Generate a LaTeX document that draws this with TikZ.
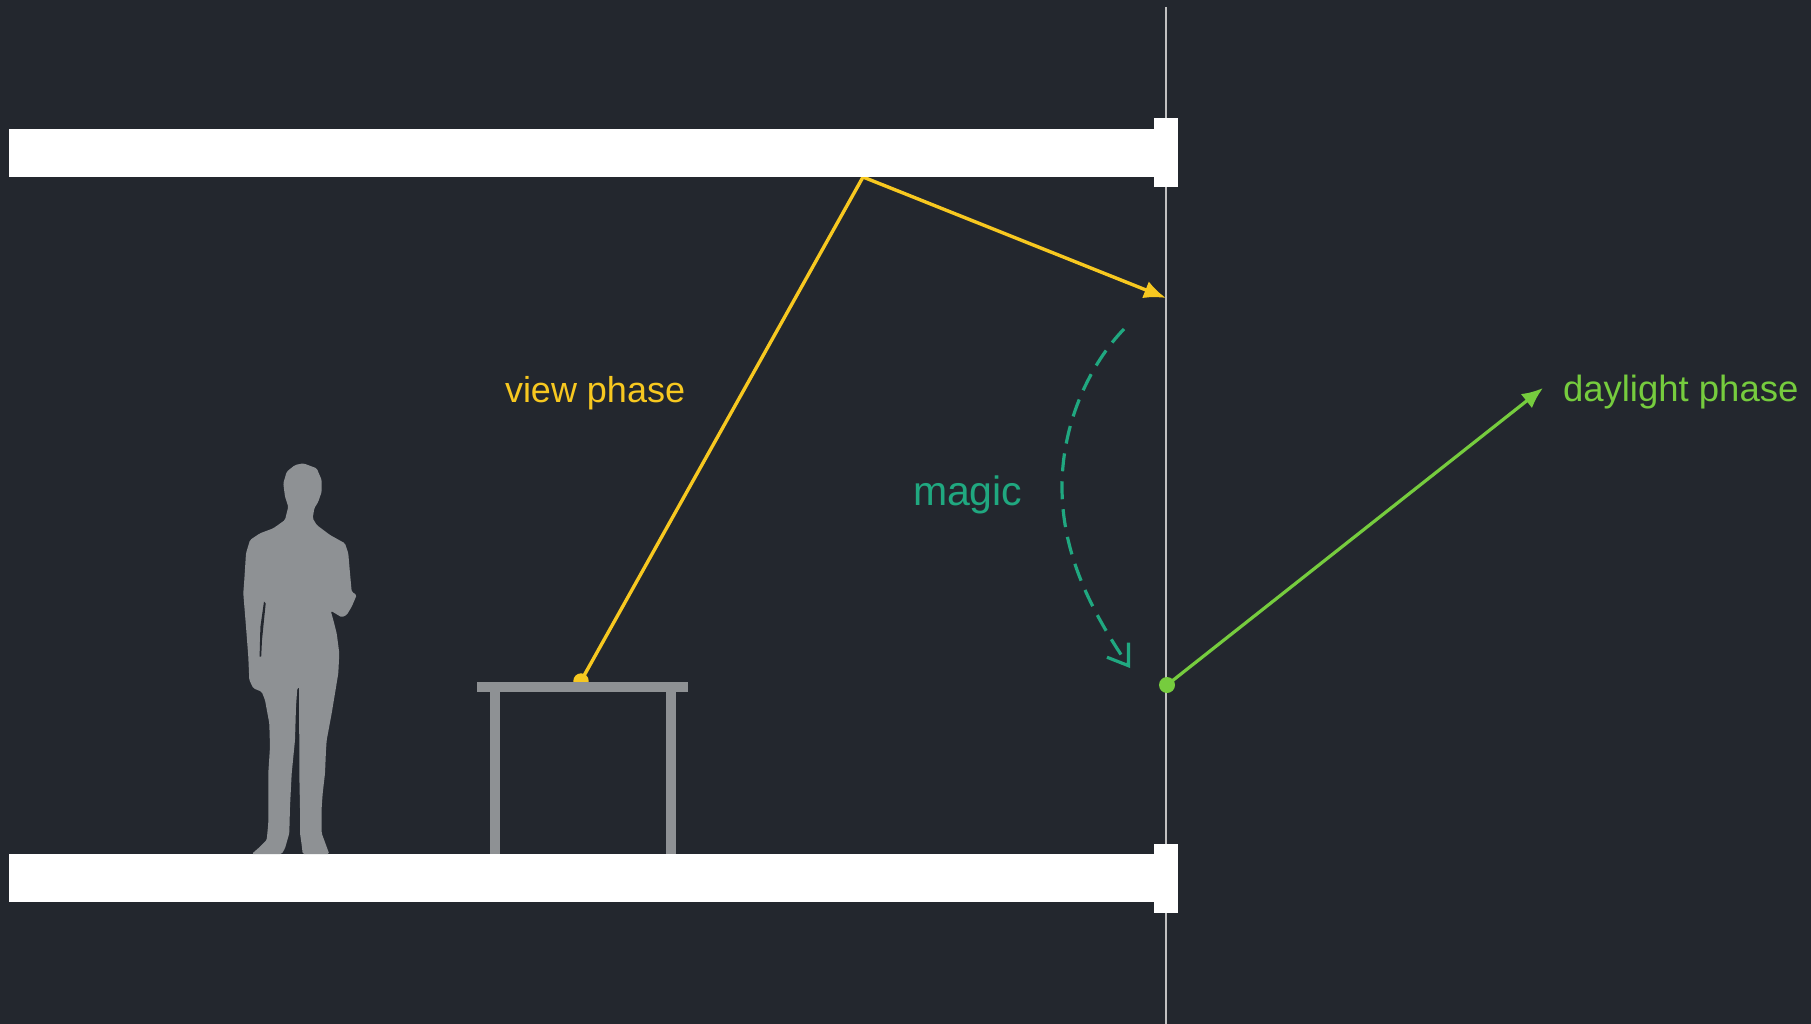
\documentclass[tikz,border=0pt]{standalone}
\usepackage{fontspec}
\setmainfont{Liberation Sans}
\usetikzlibrary{arrows.meta}
\definecolor{bg}{RGB}{35,39,46}
\definecolor{viewc}{RGB}{247,200,32}
\definecolor{dayc}{RGB}{118,204,62}
\definecolor{magicc}{RGB}{32,168,128}
\definecolor{figc}{RGB}{142,145,148}
\definecolor{glassc}{RGB}{192,192,192}
\begin{document}
\begin{tikzpicture}[x=1pt,y=-1pt,
  slab/.style={fill=white,draw=none},
  furn/.style={fill=figc,draw=none},
  viewray/.style={draw=viewc,line width=3.4pt,-{Latex[length=22pt,width=18pt]}},
  dayray/.style={draw=dayc,line width=3.2pt,-{Latex[length=21pt,width=18pt]}},
  magicarc/.style={draw=magicc,line width=3.2pt,dash pattern=on 18pt off 10pt,-{Straight Barb[length=19pt,width=26pt]}},
  lbl/.style={anchor=base west,inner sep=0pt,outer sep=0pt}]
% canvas
\useasboundingbox (0,0) rectangle (1811,1024);
\fill[bg] (0,0) rectangle (1811,1024);

% facade line
\coordinate (gtop) at (1166,7);
\coordinate (gbot) at (1166,1024);
\draw[glassc,line width=2pt] (gtop) -- (gbot);

% key points of the light paths
\coordinate (desk) at (581,681);
\coordinate (bounce) at (863,177);
\coordinate (glass) at (1166,298);
\coordinate (sensor) at (1167,685);
\coordinate (sky) at (1543,388);
\coordinate (mstart) at (1124,329);
\coordinate (mmid) at (1062,487);
\coordinate (mend) at (1130,668);

% view phase ray: desk -> ceiling -> facade
\fill[viewc] (desk) circle (7.7pt);
\draw[viewray] (desk) -- (bounce) -- (glass);

% ceiling and floor slabs
\fill[slab] (9,129) rectangle (1154,177);
\fill[slab] (1154,118) rectangle (1178,187);
\fill[slab] (9,854) rectangle (1154,902);
\fill[slab] (1154,844) rectangle (1178,913);

% desk
\fill[furn] (477,682) rectangle (688,692);
\fill[furn] (490,692) rectangle (500,854);
\fill[furn] (666,692) rectangle (676,854);

% standing figure
\fill[figc,rounded corners=1.5pt] (303.3,463.3) -- (316.7,468.3) -- (321.7,480) -- (321.7,491.7) -- (318.3,501.7)
 -- (314.3,508.3) -- (312.7,518.3) -- (316.7,525) -- (330,535) -- (345,543.3) -- (348.3,553.3)
 -- (350,573.3) -- (351.7,591.7) -- (356.7,595) -- (351.7,606.7) -- (346.7,615) -- (341.7,617.3)
 -- (335,613.3) -- (330.7,610.7) -- (333.3,620) -- (336.7,633.3) -- (339.3,653.3) -- (338.3,673.3)
 -- (335,693.3) -- (331.7,713.3) -- (326.7,740) -- (326,750) -- (325,773.3) -- (322.7,793.3)
 -- (321.7,806.7) -- (321.7,833.3) -- (326,845) -- (329.3,854) -- (302.7,854) -- (301.7,845)
 -- (300,833.3) -- (300,806.7) -- (299.3,773.3) -- (299.3,740) -- (299,706.7) -- (299,686.7)
 -- (297.3,688.3) -- (296,706.7) -- (295,740) -- (291.7,773.3) -- (290,806.7) -- (289.3,833.3)
 -- (285,848.3) -- (281.7,854) -- (251.7,854) -- (260,846.7) -- (266.7,840) -- (268.3,823.3)
 -- (268.3,773.3) -- (270,746.7) -- (269.3,723.3) -- (265,700) -- (261.7,691.7) -- (253.3,688.3)
 -- (249.3,680) -- (248.3,656.7) -- (246,626.7) -- (243.3,593.3) -- (244.3,580) -- (246,553.3)
 -- (250,540) -- (260,533.3) -- (273.3,528.3) -- (285,520) -- (288.3,506.7) -- (285,496.7)
 -- (283.3,483.3) -- (286.7,471.7) -- (295,465) -- cycle;
% gap between arm and torso
\fill[bg] (264,601.7) -- (265.7,603.3) -- (262,640) -- (261.2,656.7) -- (259.6,656.7) -- (260.4,626.7) -- cycle;

% daylight phase ray
\draw[dayray] (sensor) -- (sky);
\fill[dayc] (sensor) circle (8pt);

% redirection arc
\draw[magicarc] (mstart) .. controls (1092,362) and (1062,420) .. (mmid)
  .. controls (1062,555) and (1092,612) .. (mend);

% labels
\node[lbl,text=viewc,font=\fontsize{36}{40}\selectfont] (lview) at (505,402) {view phase};
\node[lbl,text=magicc,font=\fontsize{41}{46}\selectfont] (lmagic) at (913,505) {magic};
\node[lbl,text=dayc,font=\fontsize{36.5}{40}\selectfont] (lday) at (1563,401) {daylight phase};
\end{tikzpicture}
\end{document}
